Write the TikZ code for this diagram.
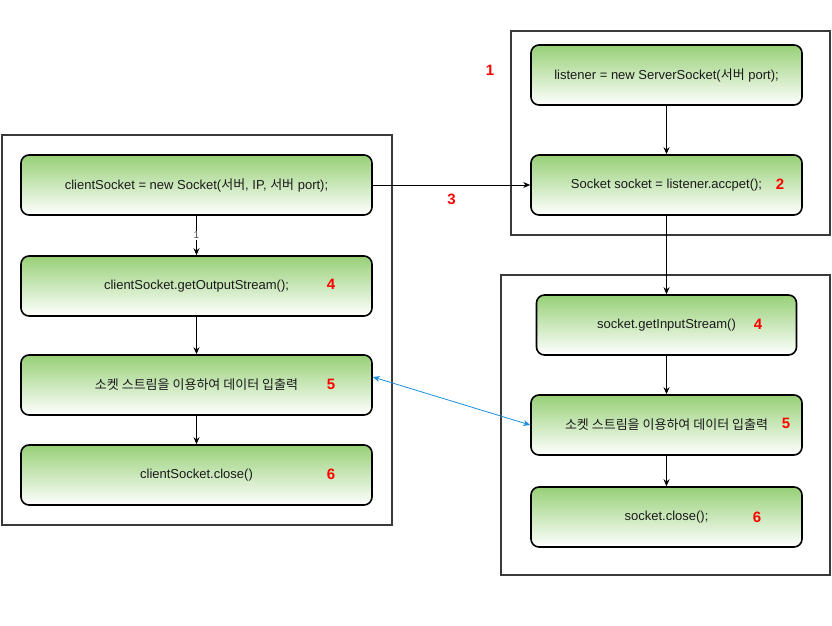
\documentclass[tikz,border=0pt]{standalone}
\usepackage{fontspec}
\setmainfont{Liberation Sans}
\newfontfamily\kr{Noto Sans CJK KR}
\usetikzlibrary{arrows.meta}
\definecolor{boxgreen}{HTML}{97D077}
\definecolor{linkblue}{HTML}{1C8EDC}
\definecolor{numred}{HTML}{FF0000}
\definecolor{framegray}{HTML}{3A3A3A}
\definecolor{txt}{HTML}{1A1A1A}
\tikzset{
  stepbox/.style={draw=black, line width=1.6pt, rounded corners=8pt,
    top color=boxgreen, bottom color=white, minimum height=60pt,
    inner sep=0pt, text=txt, font=\fontsize{13}{15}\selectfont},
  container/.style={draw=framegray, line width=1.5pt, inner sep=0pt},
  num/.style={text=numred, font=\fontsize{15}{17}\selectfont\bfseries, inner sep=0pt},
  flow/.style={-{Stealth[length=7pt,width=6pt]}, line width=0.9pt, draw=black},
  link/.style={{Stealth[length=7pt,width=6pt]}-{Stealth[length=7pt,width=6pt]}, draw=linkblue, line width=0.8pt},
}
\begin{document}
\begin{tikzpicture}[x=1pt,y=-1pt]
\useasboundingbox (0,0) rectangle (832,626);
% containers
\node[container, minimum width=390pt, minimum height=390pt] (clientframe) at (197,330) {};
\node[container, minimum width=319pt, minimum height=204pt] (servertop) at (670.5,133) {};
\node[container, minimum width=329pt, minimum height=300pt] (serverbot) at (665.5,425) {};
% client boxes
\node[stepbox, minimum width=351pt] (L1) at (196.5,185) {clientSocket = new Socket({\kr 서버}, IP, {\kr 서버} port);};
\node[stepbox, minimum width=351pt] (L2) at (196.5,286) {clientSocket.getOutputStream();};
\node[stepbox, minimum width=351pt] (L3) at (196.5,385) {{\kr 소켓 스트림을 이용하여 데이터 입출력}};
\node[stepbox, minimum width=351pt] (L4) at (196.5,475) {clientSocket.close()};
% server boxes
\node[stepbox, minimum width=271pt] (R1) at (666.5,75) {listener = new ServerSocket({\kr 서버} port);};
\node[stepbox, minimum width=271pt] (R2) at (666.5,185) {Socket socket = listener.accpet();};
\node[stepbox, minimum width=260pt] (R3) at (666.5,325) {socket.getInputStream()};
\node[stepbox, minimum width=271pt] (R4) at (666.5,425) {{\kr 소켓 스트림을 이용하여 데이터 입출력}};
\node[stepbox, minimum width=271pt] (R5) at (666.5,517) {socket.close();};
% red numbers
\node[num] (n1) at (490,70) {1};
\node[num] (n2) at (780,184) {2};
\node[num] (nl4) at (331,284) {4};
\node[num] (nl5) at (331,384) {5};
\node[num] (nl6) at (331,474) {6};
\node[num] (nr4) at (758,324) {4};
\node[num] (nr5) at (786,423) {5};
\node[num] (nr6) at (757,517) {6};
% connectors
\draw[flow] (L1) -- node[fill=white, text=black!70, font=\fontsize{10}{12}\selectfont, inner sep=1pt] (lab1) {1} (L2);
\draw[flow] (L2) -- (L3);
\draw[flow] (L3) -- (L4);
\draw[flow] (R1) -- (R2);
\draw[flow] (R2) -- (R3);
\draw[flow] (R3) -- (R4);
\draw[flow] (R4) -- (R5);
\draw[flow] (L1) -- node[num, yshift=-14pt] (n3) {3} (R2);
\draw[link] ([yshift=8pt]L3.east) -- (R4.west);
\end{tikzpicture}
\end{document}
